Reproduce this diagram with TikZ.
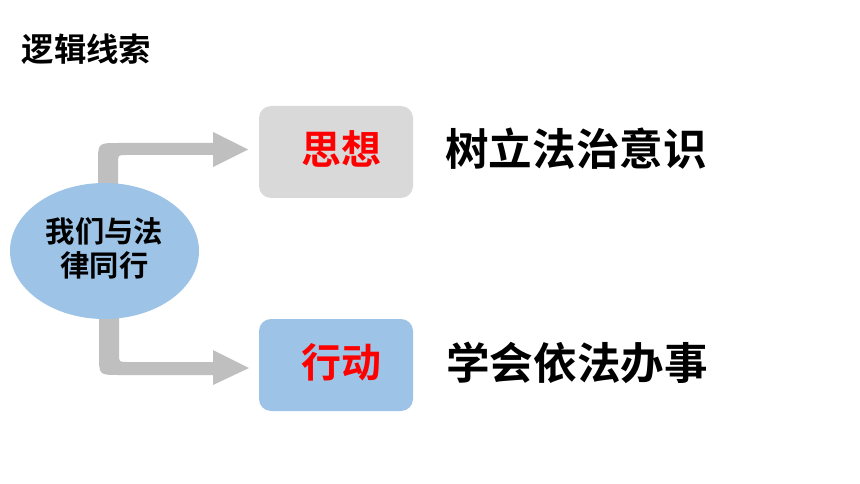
\documentclass[tikz,border=0pt]{standalone}
\usepackage{fontspec}
\newfontfamily\cjk{Noto Sans CJK SC}[BoldFont={* Bold}]
\definecolor{ellblue}{HTML}{9DC3E6}
\definecolor{boxgray}{HTML}{D9D9D9}
\definecolor{arrgray}{HTML}{BFBFBF}
\definecolor{myred}{HTML}{FF0000}
\begin{document}
\begin{tikzpicture}[x=1pt,y=-1pt,
  txt/.style={inner sep=0pt,font=\cjk\bfseries},
  box/.style={rounded corners=12pt,minimum width=154pt,minimum height=92pt,inner sep=0pt},
  arrowshape/.style={fill=arrgray,draw=none}]
\useasboundingbox (0,0) rectangle (860,484);
\fill[white] (0,0) rectangle (860,484);
% title
\node[txt,font=\cjk\bfseries\fontsize{32.4}{36}\selectfont] (title) at (86.5,49) {逻辑线索};
% boxes
\node[box,fill=boxgray] (sixiang) at (336,152) {};
\node[box,fill=ellblue] (xingdong) at (336,365) {};
\node[txt,text=myred,font=\cjk\bfseries\fontsize{40}{44}\selectfont] (t1) at (341.5,149) {思想};
\node[txt,text=myred,font=\cjk\bfseries\fontsize{40}{44}\selectfont] (t2) at (341.5,362.5) {行动};
% right texts
\node[txt,font=\cjk\bfseries\fontsize{43.6}{48}\selectfont] (r1) at (576,149) {树立法治意识};
\node[txt,font=\cjk\bfseries\fontsize{43.6}{48}\selectfont] (r2) at (577,362.5) {学会依法办事};
% arrows
\coordinate (a1s) at (98,200);
\fill[arrowshape] (a1s) -- (98,163) .. controls (98,143) .. (118,143) -- (213,143) -- (213,132) -- (248,149.5) -- (213,167) -- (213,155) -- (126,155) .. controls (118,155) .. (118,163) -- (118,200) -- cycle;
\coordinate (a2s) at (99,300);
\fill[arrowshape] (a2s) -- (99,355) .. controls (99,375) .. (119,375) -- (213,375) -- (213,385) -- (249,368) -- (213,350) -- (213,362) -- (127,362) .. controls (119,362) .. (119,354) -- (119,300) -- cycle;
% ellipse
\fill[ellblue] (104.5,251) ellipse [x radius=94.5, y radius=68];
\node[txt,align=center,font=\cjk\bfseries\fontsize{29.3}{34}\selectfont] (center) at (104.5,248) {我们与法\\律同行};
\end{tikzpicture}
\end{document}
